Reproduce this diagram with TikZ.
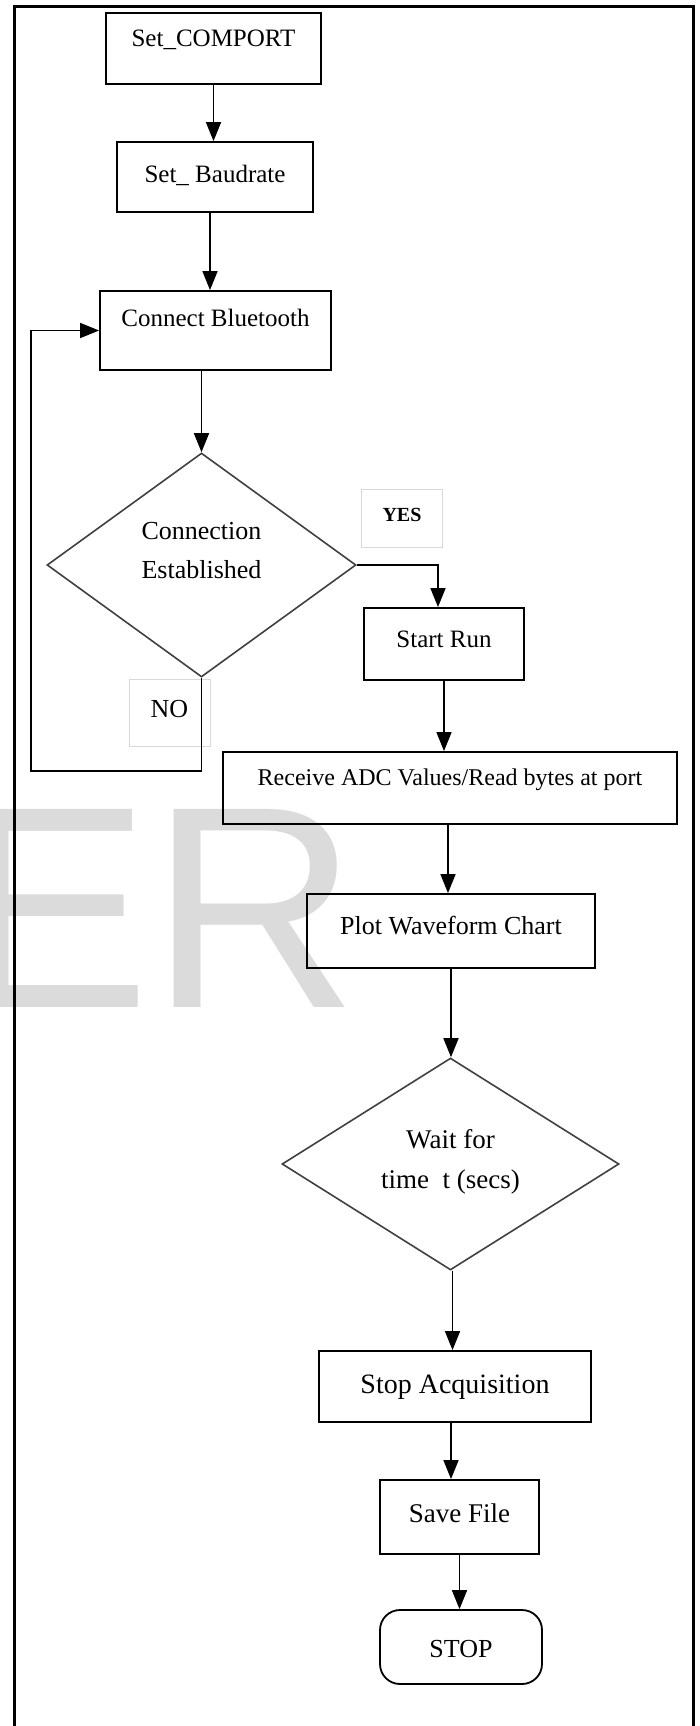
\documentclass[tikz,border=0pt]{standalone}
\usepackage{fontspec}
\setmainfont{Liberation Serif}
\newfontfamily\wmfont{Liberation Sans}
\usetikzlibrary{shapes.geometric, arrows.meta}
\tikzstyle{process} = [draw, line width=1.8pt, inner sep=0pt, font=\fontsize{25}{38}\selectfont]
\tikzstyle{decision} = [diamond, draw=black!75, line width=1.6pt, inner sep=0pt, font=\fontsize{26}{39}\selectfont]
\tikzstyle{answer} = [draw=black!15, line width=1pt, inner sep=0pt, minimum width=81pt]
\tikzstyle{arrow} = [line width=1.6pt,-{Triangle[length=19pt,width=15pt]}]
\tikzstyle{pageframe} = [line width=3pt]
\newcommand{\twolines}[3]{\raisebox{#1}[0pt][0pt]{\begin{tabular}[b]{@{}c@{}}#2\\#3\end{tabular}}}

\begin{document}
\begin{tikzpicture}[x=1pt, y=-1pt]
        \useasboundingbox (0,0) rectangle (699,1726);

        % Watermark
        \node at (-42,1007) [anchor=base west, inner sep=0pt, text=black!14, font=\wmfont\fontsize{288}{288}\selectfont] (wm) {ER};

        % Frame
        \draw[pageframe] (14,1726) -- (14,7) -- (693,7) -- (693,1726);

        % Port setup
        \node at (213.5,48.5) [process, minimum width=215pt, text height=34pt, text depth=37pt] (comport) {Set\_COMPORT};
        \node at (215,177) [process, minimum width=196pt, text height=40pt, text depth=30pt] (baud) {Set\_ Baudrate};
        \node at (215.5,330.5) [process, minimum width=231pt, text height=35pt, text depth=44pt] (bt) {Connect Bluetooth};

        % Connection check
        \node at (201.5,565) [decision, minimum width=309pt, minimum height=224pt] (est) {\twolines{-13pt}{Connection}{Established}};
        \node at (402,518) [answer, text height=32pt, text depth=26pt, font=\fontsize{20}{24}\selectfont\bfseries] (yes) {YES};
        \node at (169.5,712.5) [answer, text height=38pt, text depth=29pt, font=\fontsize{26}{30}\selectfont] (no) {NO};
        \coordinate (back) at (31,771);

        % Acquisition
        \node at (444,644) [process, minimum width=160pt, text height=39pt, text depth=33pt] (run) {Start Run};
        \node at (450,788) [process, minimum width=454pt, text height=33pt, text depth=39pt, font=\fontsize{24}{30}\selectfont] (rcv) {Receive ADC Values/Read bytes at port};
        \node at (451,931) [process, minimum width=288pt, text height=40pt, text depth=34pt, font=\fontsize{26}{32}\selectfont] (plot) {Plot Waveform Chart};
        \node at (450.5,1164) [decision, minimum width=337pt, minimum height=212pt, font=\fontsize{27}{40}\selectfont] (wait) {\twolines{-24pt}{Wait for}{time\ \ t (secs)}};

        % Finish
        \node at (455,1386.5) [process, minimum width=272pt, text height=42pt, text depth=29pt, font=\fontsize{28}{34}\selectfont] (acq) {Stop Acquisition};
        \node at (459.5,1517) [process, minimum width=159pt, text height=42pt, text depth=32pt, font=\fontsize{27}{32}\selectfont] (save) {Save File};
        \node at (461,1647) [process, rounded corners=20pt, minimum width=162pt, text height=47pt, text depth=27pt, font=\fontsize{26}{32}\selectfont] (stop) {STOP};

        % Connectors
        \draw[arrow] (comport.south) -- (comport.south |- baud.north);
        \draw[arrow] ([xshift=-5pt]baud.south) -- ([xshift=-5pt]baud.south |- bt.north);
        \draw[arrow] (bt.south -| est.north) -- (est.north);
        \draw[arrow] (est.south) |- (back) |- (bt.west);
        \draw[arrow] (est.east) -| ([xshift=-6pt]run.north);
        \draw[arrow] (run.south) -- (run.south |- rcv.north);
        \draw[arrow] ([xshift=-2pt]rcv.south) -- ([xshift=-2pt]rcv.south |- plot.north);
        \draw[arrow] (plot.south) -- (plot.south |- wait.north);
        \draw[arrow] ([xshift=2pt]wait.south) -- ([xshift=2pt]wait.south |- acq.north);
        \draw[arrow] ([xshift=-4pt]acq.south) -- ([xshift=-4pt]acq.south |- save.north);
        \draw[arrow] (save.south) -- (save.south |- stop.north);

\end{tikzpicture}
\end{document}
